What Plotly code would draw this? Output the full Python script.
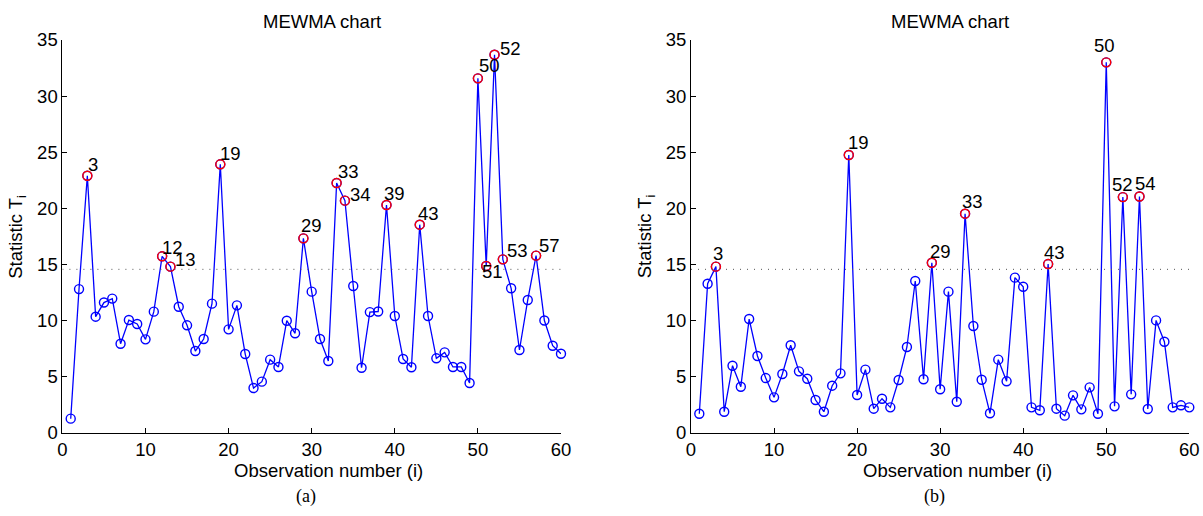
import plotly.graph_objects as go

W, H = 1203, 516

# ---------------- data ----------------
obs = list(range(1, 61))

stat_a = [1.25, 12.8, 22.9, 10.34, 11.6, 11.95, 7.93, 10.04, 9.69, 8.32,
          10.79, 15.72, 14.8, 11.23, 9.57, 7.28, 8.35, 11.5, 23.92, 9.21,
          11.35, 7.01, 3.98, 4.55, 6.51, 5.86, 9.98, 8.86, 17.32, 12.57,
          8.35, 6.39, 22.25, 20.68, 13.07, 5.79, 10.75, 10.8, 20.29, 10.4,
          6.57, 5.83, 18.54, 10.4, 6.63, 7.16, 5.86, 5.86, 4.43, 31.58,
          14.86, 33.69, 15.45, 12.87, 7.37, 11.83, 15.78, 10.0, 7.75, 7.04]

stat_b = [1.69, 13.28, 14.8, 1.87, 5.97, 4.1, 10.13, 6.84, 4.87, 3.15,
          5.23, 7.79, 5.47, 4.81, 2.91, 1.87, 4.19, 5.29, 24.75, 3.36,
          5.62, 2.14, 3.03, 2.26, 4.7, 7.64, 13.52, 4.76, 15.15, 3.87,
          12.57, 2.76, 19.52, 9.51, 4.72, 1.73, 6.51, 4.58, 13.82, 13.01,
          2.26, 2.0, 15.03, 2.14, 1.52, 3.33, 2.08, 4.04, 1.69, 33.01,
          2.35, 21.0, 3.42, 21.05, 2.11, 10.01, 8.11, 2.26, 2.44, 2.26]

ucl = 14.56

flag_a = [3, 12, 13, 19, 29, 33, 34, 39, 43, 50, 51, 52, 53, 57]
flag_b = [3, 19, 29, 33, 43, 50, 52, 54]

x_ticks = [0, 10, 20, 30, 40, 50, 60]
y_ticks = [0, 5, 10, 15, 20, 25, 30, 35]

title_text = "MEWMA chart"
x_title = "Observation number (i)"
y_title = "Statistic T<sub>i</sub>"
captions = ["(a)", "(b)"]

# label offsets in pixels (style): (dx, dy) with dy positive = down
off_a = {3: (1, -11), 12: (0, -9), 13: (5, -7), 19: (0, -11), 29: (-2, -13),
         33: (1, -12), 34: (5, -6), 39: (-2, -12), 43: (-2, -11), 50: (1, -12.5),
         51: (-4, 6), 52: (5, -6), 53: (4, -9), 57: (3, -10)}
off_b = {3: (-3, -13), 19: (-1, -13), 29: (-2, -11), 33: (-3, -12), 43: (-4, -11.5),
         50: (-12, -17), 52: (-11, -13), 54: (-4, -13)}

# ---------------- layout geometry (pixels) ----------------
left_px = [(62.4, 561.0), (691.0, 1189.3)]
y_bot_px, y_top_px = 432.7, 40.0
FONT = "Liberation Sans, Arial, Helvetica, sans-serif"
FS = 18.5

fig = go.Figure()
annotations = []
shapes = []

panels = [(stat_a, flag_a, off_a, "x", "y"), (stat_b, flag_b, off_b, "x2", "y2")]
for k, (vals, flags, offs, xr, yr) in enumerate(panels):
    fig.add_trace(go.Scatter(
        x=obs, y=vals, mode="lines+markers", xaxis=xr, yaxis=yr,
        line=dict(color="#0000FF", width=1.3),
        marker=dict(symbol="circle-open", size=9, color="#0000FF", line=dict(width=1.4)),
        cliponaxis=False, showlegend=False))
    fx = flags
    fy = [vals[i - 1] for i in flags]
    fig.add_trace(go.Scatter(
        x=fx, y=fy, mode="markers", xaxis=xr, yaxis=yr,
        marker=dict(symbol="circle-open", size=9, color="#FF0000", line=dict(width=1.4)),
        cliponaxis=False, showlegend=False))
    for i, v in zip(fx, fy):
        dx, dy = offs[i]
        annotations.append(dict(
            x=i, y=v, xref=xr, yref=yr, text=str(i), showarrow=False,
            xanchor="left", yanchor="middle", xshift=dx - 2, yshift=-dy,
            font=dict(family=FONT, size=FS, color="black")))
    shapes.append(dict(type="line", xref=xr, yref=yr, x0=0, x1=60, y0=ucl, y1=ucl,
                       line=dict(color="#555555", width=1, dash="1px,6px")))
    x0p, x1p = left_px[k]
    cx = (x0p + x1p) / 2
    # title
    annotations.append(dict(x=(cx + 10) / W, y=1 - 21.7 / H, xref="paper", yref="paper",
                            text=title_text, showarrow=False, xanchor="center", yanchor="middle",
                            font=dict(family=FONT, size=FS, color="black")))
    # x-axis title
    annotations.append(dict(x=(cx + 17) / W, y=1 - 470 / H, xref="paper", yref="paper",
                            text=x_title, showarrow=False, xanchor="center", yanchor="middle",
                            font=dict(family=FONT, size=FS, color="black")))
    # y-axis title
    annotations.append(dict(x=(x0p - 45) / W, y=1 - ((y_bot_px + y_top_px) / 2) / H,
                            xref="paper", yref="paper",
                            text=y_title, showarrow=False, textangle=-90,
                            xanchor="center", yanchor="middle",
                            font=dict(family=FONT, size=FS, color="black")))
    # caption
    annotations.append(dict(x=(cx - 6) / W, y=1 - 496 / H, xref="paper", yref="paper",
                            text=captions[k], showarrow=False, xanchor="center", yanchor="middle",
                            font=dict(family="Liberation Serif, Times New Roman, serif", size=18,
                                      color="black")))

ydom = [1 - y_bot_px / H, 1 - y_top_px / H]
common_x = dict(range=[0, 60], tickvals=x_ticks, ticks="inside", ticklen=5, tickcolor="black",
                showline=True, linecolor="black", linewidth=1, showgrid=False, zeroline=False,
                automargin=False,
                tickfont=dict(family=FONT, size=FS, color="black"), fixedrange=True)
common_y = dict(range=[0, 35], tickvals=y_ticks, ticks="inside", ticklen=5, tickcolor="black",
                showline=True, linecolor="black", linewidth=1, showgrid=False, zeroline=False,
                automargin=False,
                tickfont=dict(family=FONT, size=FS, color="black"), fixedrange=True, domain=ydom)

fig.update_layout(
    width=W, height=H, margin=dict(l=0, r=0, t=0, b=0),
    paper_bgcolor="white", plot_bgcolor="white",
    xaxis=dict(domain=[left_px[0][0] / W, left_px[0][1] / W], anchor="y", **common_x),
    yaxis=dict(anchor="x", **common_y),
    xaxis2=dict(domain=[left_px[1][0] / W, left_px[1][1] / W], anchor="y2", **common_x),
    yaxis2=dict(anchor="x2", **common_y),
    annotations=annotations, shapes=shapes, showlegend=False)

fig.write_html("out.html")
